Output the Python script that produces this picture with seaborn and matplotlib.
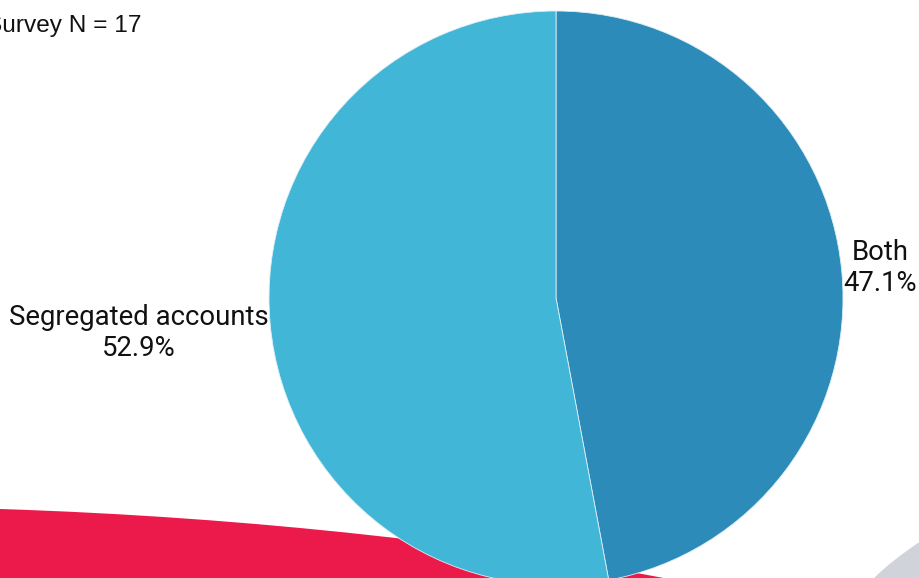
import numpy as np
import matplotlib
matplotlib.use("Agg")
import matplotlib.pyplot as plt
from matplotlib.path import Path
from matplotlib.patches import PathPatch
import seaborn as sns

# Survey responses
categories = ["Both", "Segregated accounts"]
counts = [8, 9]
slice_colors = ["#2D8BBA", "#42B6D6"]
survey_note = "Survey N = 17"

sns.set_theme(style="white")
plt.rcParams["font.family"] = ["Roboto", "DejaVu Sans"]

W, H = 920, 578
fig = plt.figure(figsize=(W / 100, H / 100), dpi=100)
ax = fig.add_axes([0, 0, 1, 1])


def py(y):
    """Convert a top-down pixel row to the axes' bottom-up y value."""
    return H - y


# Decorative red swoosh along the bottom-left
red_verts = [(0, py(509)), (250, py(517)), (500, py(545)), (700, py(585)),
             (700, py(600)), (0, py(600)), (0, py(509))]
red_codes = [Path.MOVETO, Path.CURVE4, Path.CURVE4, Path.CURVE4,
             Path.LINETO, Path.LINETO, Path.CLOSEPOLY]
ax.add_patch(PathPatch(Path(red_verts, red_codes), facecolor="#EC1A4B",
                       edgecolor="none", zorder=0))

# Decorative grey corner shape on the bottom-right
grey_verts = [(872, py(580)), (887, py(565)), (903, py(553)), (921, py(541)),
              (921, py(582)), (872, py(582))]
grey_codes = [Path.MOVETO, Path.CURVE4, Path.CURVE4, Path.CURVE4,
              Path.LINETO, Path.CLOSEPOLY]
ax.add_patch(PathPatch(Path(grey_verts, grey_codes), facecolor="#D0D3DA",
                       edgecolor="none", zorder=0))

total = sum(counts)
labels = [f"{c}\n{v / total * 100:.1f}%" for c, v in zip(categories, counts)]

center = (556, py(298))
wedges, texts = ax.pie(
    counts,
    labels=labels,
    colors=slice_colors,
    startangle=90,
    counterclock=False,
    center=center,
    radius=287,
    labeldistance=1.005,
    frame=True,
    wedgeprops=dict(linewidth=0.6, edgecolor="#DDEFF6", zorder=2),
    textprops=dict(fontsize=19.8, color="#111111", multialignment="center",
                   linespacing=1.2),
)

# Align each label away from the pie, based on which side its slice sits
for w, t in zip(wedges, texts):
    mid = np.deg2rad((w.theta1 + w.theta2) / 2)
    x, y = t.get_position()
    if np.cos(mid) < 0:
        t.set_ha("right")
        t.set_position((x, y - 8))
    else:
        t.set_ha("left")
        t.set_position((x, y + 3))

ax.text(-14, py(32), survey_note, fontsize=17.6, color="#111111",
        family=["Liberation Sans", "DejaVu Sans"], ha="left", va="baseline")

ax.set_xlim(0, W)
ax.set_ylim(0, H)
ax.set_aspect("auto")
ax.axis("off")

fig.savefig("out.png", dpi=100, facecolor="white")
